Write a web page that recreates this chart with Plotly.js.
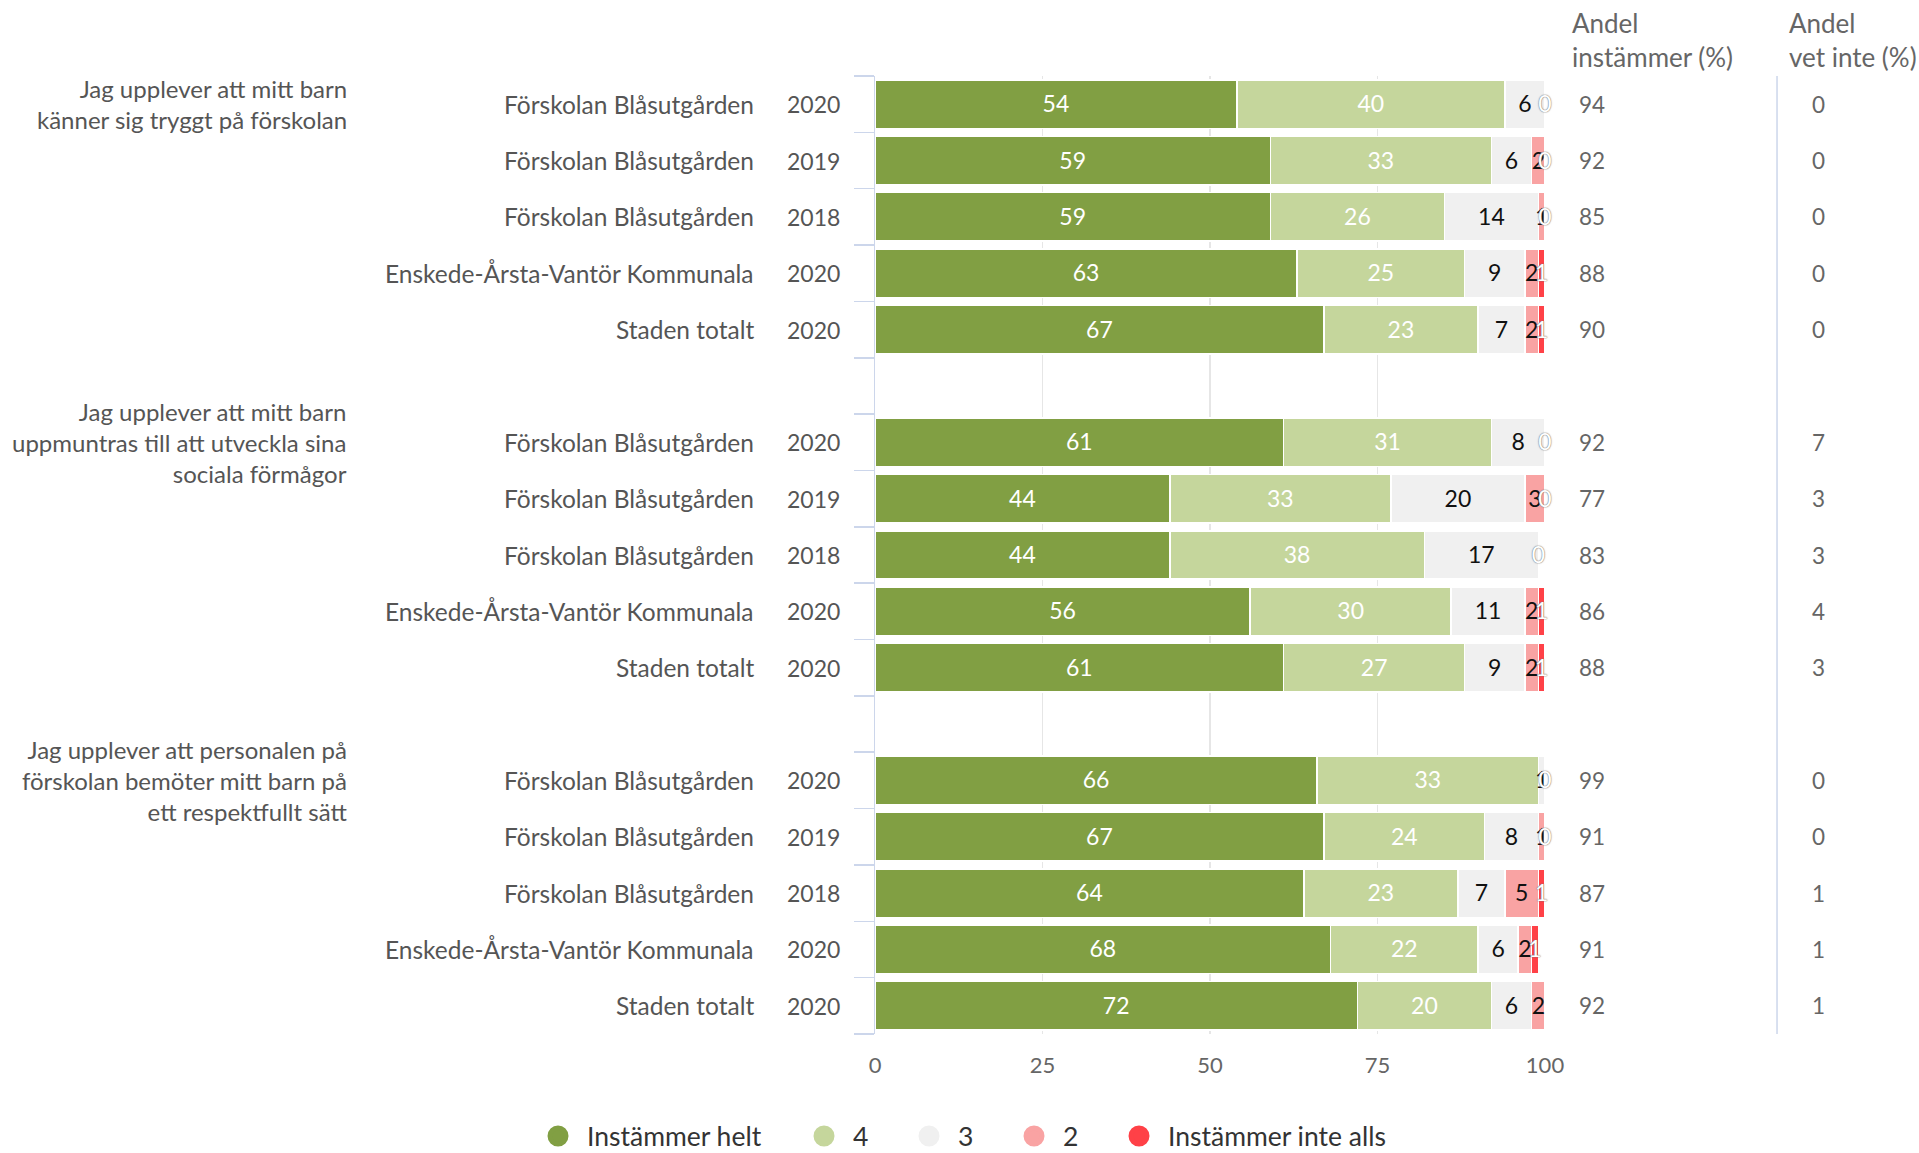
<!DOCTYPE html>
<html><head><meta charset="utf-8">
<script src="https://cdn.plot.ly/plotly-3.0.1.min.js"></script>
<style>html,body{margin:0;padding:0;background:#fff}#chart{width:1919px;height:1153px}</style>
</head><body><div id="chart"></div>
<script>
const groupTitles = [
  "Jag upplever att mitt barn<br>känner sig tryggt på förskolan",
  "Jag upplever att mitt barn<br>uppmuntras till att utveckla sina<br>sociala förmågor",
  "Jag upplever att personalen på<br>förskolan bemöter mitt barn på<br>ett respektfullt sätt"
];
const units = [
  "Förskolan Blåsutgården","Förskolan Blåsutgården","Förskolan Blåsutgården","Enskede-Årsta-Vantör Kommunala","Staden totalt",
  "Förskolan Blåsutgården","Förskolan Blåsutgården","Förskolan Blåsutgården","Enskede-Årsta-Vantör Kommunala","Staden totalt",
  "Förskolan Blåsutgården","Förskolan Blåsutgården","Förskolan Blåsutgården","Enskede-Årsta-Vantör Kommunala","Staden totalt"
];
const years = ["2020","2019","2018","2020","2020","2020","2019","2018","2020","2020","2020","2019","2018","2020","2020"];
const instammerHelt     = [54,59,59,63,67, 61,44,44,56,61, 66,67,64,68,72];
const betyg4            = [40,33,26,25,23, 31,33,38,30,27, 33,24,23,22,20];
const betyg3            = [6,6,14,9,7,     8,20,17,11,9,   1,8,7,6,6];
const betyg2            = [0,2,1,2,2,      0,3,0,2,2,      0,1,5,2,2];
const instammerInteAlls = [0,0,0,1,1,      0,0,0,1,1,      0,0,1,1,1];
const andelInstammer = [94,92,85,88,90, 92,77,83,86,88, 99,91,87,91,92];
const andelVetInte   = [0,0,0,0,0, 7,3,3,4,3, 0,0,1,1,1];
const seriesNames = ["Instämmer helt","4","3","2","Instämmer inte alls"];
const xTicks = [0,25,50,75,100];
const headers = ["Andel<br>instämmer (%)","Andel<br>vet inte (%)"];

const seriesColors = ["#819f43","#c5d69c","#f0f0f0","#f9a3a3","#ff4147"];
const labelColors = ["#ffffff","#ffffff","#111111","#111111","#ffffff"];
const FONT = "Lato, 'Open Sans', sans-serif";
const rowsPerGroup = 5;
const labelNudge = 0.04;   // small downward nudge so text sits optically centred in bars

const rowY = units.map((_, i) => Math.floor(i / rowsPerGroup) * (rowsPerGroup + 1) + i % rowsPerGroup);
const nSlots = groupTitles.length * (rowsPerGroup + 1) - 1;   // 17 slots incl. gaps
const series = [instammerHelt, betyg4, betyg3, betyg2, instammerInteAlls];

const traces = [];
series.forEach((vals, s) => {
  traces.push({
    type: 'bar', orientation: 'h', name: seriesNames[s], x: vals, y: rowY, width: 0.86,
    marker: {color: seriesColors[s], line: {color: '#ffffff', width: 1.5}},
    showlegend: false, hovertemplate: '%{x}<extra>' + seriesNames[s] + '</extra>'
  });
});
const starts = rowY.map(() => 0);
series.forEach((vals, s) => {
  const xs = [], txt = [];
  vals.forEach((v, i) => {
    xs.push(starts[i] + v / 2);
    starts[i] += v;
    let t = String(v);
    if (s === 3 && v === 0 && instammerInteAlls[i] === 0) t = '';
    txt.push(t);
  });
  traces.push({
    type: 'scatter', mode: 'text', x: xs, y: rowY.map(y => y + labelNudge), text: txt, textposition: 'middle center',
    textfont: {family: FONT, size: 23, color: labelColors[s], shadow: s === 4 ? '0px 0px 1.5px #777, 0px 0px 1px #777' : 'none'},
    cliponaxis: false, showlegend: false, hoverinfo: 'skip'
  });
});
const legendWidths = [203, 42, 42, 42, null];
series.forEach((vals, s) => {
  const t = {
    type: 'scatter', mode: 'markers', x: [null], y: [null], name: seriesNames[s],
    marker: {color: seriesColors[s], size: 16, line: {color: seriesColors[s], width: 5}},
    hoverinfo: 'skip'
  };
  if (legendWidths[s]) t.legendwidth = legendWidths[s];
  traces.push(t);
});

const ann = [];
const labelFont = {family: FONT, size: 24.5, color: '#555555'};
const yearFont = {family: FONT, size: 23, color: '#555555'};
const numFont = {family: FONT, size: 22.5, color: '#666666'};
rowY.forEach((y, i) => {
  ann.push({xref: 'paper', yref: 'y', x: -0.1776, y: y, text: units[i], xanchor: 'right', yanchor: 'middle', showarrow: false, font: labelFont});
  ann.push({xref: 'paper', yref: 'y', x: -0.0493, y: y, text: years[i], xanchor: 'right', yanchor: 'middle', showarrow: false, font: yearFont});
  ann.push({xref: 'paper', yref: 'y', x: 1.0478, y: y, text: String(andelInstammer[i]), xanchor: 'left', yanchor: 'middle', showarrow: false, font: numFont});
  ann.push({xref: 'paper', yref: 'y', x: 1.3955, y: y, text: String(andelVetInte[i]), xanchor: 'left', yanchor: 'middle', showarrow: false, font: numFont});
});
groupTitles.forEach((t, g) => {
  ann.push({xref: 'paper', yref: 'y', x: -0.785, y: g * (rowsPerGroup + 1), text: t, align: 'right', xanchor: 'right', yanchor: 'middle', showarrow: false, font: {family: FONT, size: 24, color: '#555555'}});
});
[1.038, 1.3615].forEach((x, k) => {
  ann.push({xref: 'paper', yref: 'paper', x: x, y: 1.0376, text: headers[k], align: 'left', xanchor: 'left', yanchor: 'middle', showarrow: false, font: {family: FONT, size: 26, color: '#666666'}});
});

const boundaries = [];
for (let k = 0; k <= nSlots; k++) boundaries.push(k - 0.5);

const layout = {
  width: 1919, height: 1153,
  margin: {l: 875, r: 374, t: 76, b: 119, autoexpand: false},
  paper_bgcolor: '#ffffff', plot_bgcolor: '#ffffff',
  font: {family: FONT, color: '#555555'},
  barmode: 'stack', bargap: 0.14,
  showlegend: true,
  legend: {orientation: 'h', xref: 'paper', yref: 'container', x: -0.5164, xanchor: 'left', y: 0.0145, yanchor: 'middle',
           itemwidth: 48, font: {family: FONT, size: 26.5, color: '#333333'}, bgcolor: 'rgba(0,0,0,0)', traceorder: 'normal'},
  xaxis: {range: [0, 100], tickvals: xTicks, ticktext: xTicks.map(String), showgrid: true, gridcolor: '#e6e6e6', gridwidth: 1.2,
          zeroline: false, showline: false, ticks: '', tickfont: {family: FONT, size: 22, color: '#666666'}, ticklabelstandoff: 16, fixedrange: true},
  yaxis: {range: [nSlots - 0.5, -0.5], tickvals: boundaries, ticks: 'outside', ticklen: 20, tickwidth: 1.5, tickcolor: '#ccd6eb',
          showticklabels: false, showgrid: false, zeroline: false, showline: true, linecolor: '#ccd6eb', linewidth: 1.5, fixedrange: true},
  shapes: [{type: 'line', xref: 'paper', yref: 'y', x0: 1.3463, x1: 1.3463, y0: -0.5, y1: nSlots - 0.5, line: {color: '#ccd6eb', width: 1.5}}],
  annotations: ann
};
Plotly.newPlot('chart', traces, layout, {displayModeBar: false, staticPlot: true});
</script>
</body></html>
